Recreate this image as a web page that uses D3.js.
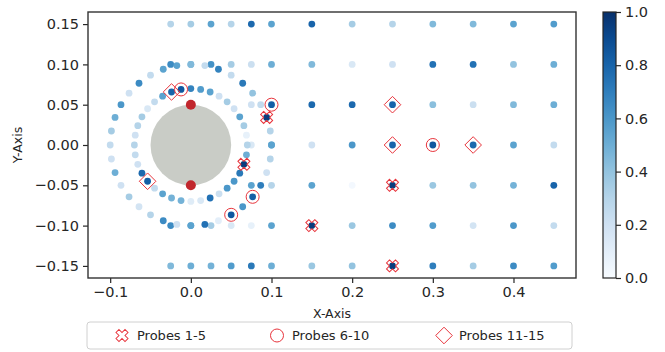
<!DOCTYPE html>
<html>
<head>
<meta charset="utf-8">
<script src="https://cdn.jsdelivr.net/npm/d3@7"></script>
<style>
  body { margin: 0; background: #fff; }
  text { font-family: "DejaVu Sans", sans-serif; fill: #262626; }
</style>
</head>
<body>
<div id="chart"></div>
<script>
// grid columns / rows (data units)
const gridX = [-0.025, 0, 0.025, 0.05, 0.075, 0.1, 0.15, 0.2, 0.25, 0.3, 0.35, 0.4, 0.45];
const gridY = [0.15, 0.1, 0.05, 0, -0.05, -0.1, -0.15];
// value per grid cell, null = no sensor
const gridValues = [
  [0.3, 0.35, 0.55, 0.3, 0.78, 0.55, 0.8, 0.35, 0.3, 0.45, 0.45, 0.55, 0.58],
  [0.65, 0.45, 0.62, 0.35, 0.22, 0.5, 0.45, 0.15, 0.2, 0.75, 0.75, 0.4, 0.5],
  [null, null, null, null, 0.2, 0.82, 0.78, 0.78, 0.8, 0.42, 0.22, 0.45, 0.5],
  [null, null, null, null, 0.15, 0.55, 0.2, 0.6, 0.8, 0.85, 0.78, 0.55, 0.25],
  [null, null, null, null, 0.55, 0.3, 0.55, 0.02, 0.95, 0.38, 0.4, 0.48, 0.8],
  [0.65, 0.55, 0.35, 0.15, 0.08, 0.55, 0.95, 0.38, 0.65, 0.58, 0.18, 0.6, 0.25],
  [0.45, 0.5, 0.48, 0.58, 0.72, 0.5, 0.38, 0.4, 0.95, 0.7, 0.35, 0.65, 0.58]
];

// ring sensors, angle 0..350 deg step 10
const ringAngles = d3.range(0, 360, 10);
const innerRadius = 0.07;
const innerValues = [0.3, 0.08, 0.35, 0.55, 0.2, 0.35, 0.2, 0.55, 0.58, 0.68, 0.85, 0.8,
  0.55, 0.25, 0.15, 0.35, 0.3, 0.2, 0.3, 0.25, 0.2, 0.78, 0.82, 0.25,
  0.55, 0.48, 0.48, 0.12, 0.15, 0.75, 0.22, 0.6, 0.6, 0.72, 0.95, 0.5];
const outerRadius = 0.1;
const outerValues = [0.55, 0.3, 0.95, 0.25, 0.4, 0.72, 0.25, 0.68, 0.25, 0.45, 0.55, 0.55,
  0.25, 0.65, 0.2, 0.6, 0.5, 0.35, 0.25, 0.2, 0.5, 0.2, 0.35, 0.18,
  0.3, 0.65, 0.2, 0.55, 0.75, 0.1, 0.85, 0.6, 0.82, 0.7, 0.2, 0.3];

const cylinderRadius = 0.05;
const stagnation = [[0, 0.05], [0, -0.05]];

const ringPos = (r, a) => [r * Math.cos(a * Math.PI / 180), r * Math.sin(a * Math.PI / 180)];
const probes1to5 = [ringPos(outerRadius, 20), ringPos(innerRadius, 340), [0.15, -0.1], [0.25, -0.05], [0.25, -0.15]];
const probes6to10 = [ringPos(innerRadius, 100), [0.1, 0.05], ringPos(outerRadius, 320), ringPos(outerRadius, 300), [0.3, 0]];
const probes11to15 = [ringPos(innerRadius, 110), ringPos(innerRadius, 220), [0.25, 0.05], [0.25, 0], [0.35, 0]];

const xTicks = [-0.1, 0, 0.1, 0.2, 0.3, 0.4];
const yTicks = [-0.15, -0.1, -0.05, 0, 0.05, 0.1, 0.15];
const cbTicks = [0, 0.2, 0.4, 0.6, 0.8, 1.0];
const legendLabels = ["Probes 1-5", "Probes 6-10", "Probes 11-15"];

const W = 665, H = 352;
const margin = {top: 12, right: 89, bottom: 74, left: 88};

const svg = d3.select("#chart").append("svg")
  .attr("width", W).attr("height", H);

const x = d3.scaleLinear().domain([-0.1275, 0.4775]).range([margin.left, W - margin.right]);
const y = d3.scaleLinear().domain([-0.165, 0.165]).range([H - margin.bottom, margin.top]);
const color = d3.scaleSequential(d3.interpolateBlues).domain([0, 1]);
const red = "#e8343c";

// points
const points = [];
gridValues.forEach((row, i) => row.forEach((v, j) => {
  if (v !== null) points.push({x: gridX[j], y: gridY[i], v});
}));
ringAngles.forEach((a, i) => {
  const [px, py] = ringPos(outerRadius, a);
  points.push({x: px, y: py, v: outerValues[i]});
});
ringAngles.forEach((a, i) => {
  const [px, py] = ringPos(innerRadius, a);
  points.push({x: px, y: py, v: innerValues[i]});
});

// cylinder
svg.append("circle")
  .attr("cx", x(0)).attr("cy", y(0))
  .attr("r", x(cylinderRadius) - x(0))
  .attr("fill", "#c9ccc6");

svg.append("g")
  .selectAll("circle")
  .data(points)
  .join("circle")
    .attr("cx", d => x(d.x))
    .attr("cy", d => y(d.y))
    .attr("r", 3.4)
    .attr("fill", d => color(d.v));

svg.append("g")
  .selectAll("circle")
  .data(stagnation)
  .join("circle")
    .attr("cx", d => x(d[0]))
    .attr("cy", d => y(d[1]))
    .attr("r", 5)
    .attr("fill", "#c1272d");

// probe markers
const xMarker = d3.symbol(d3.symbolCross, 90)();
const diamond = "M0,-8.3L8.3,0L0,8.3L-8.3,0Z";

svg.append("g").selectAll("path")
  .data(probes1to5)
  .join("path")
    .attr("d", xMarker)
    .attr("transform", d => `translate(${x(d[0])},${y(d[1])}) rotate(45)`)
    .attr("fill", "none").attr("stroke", red).attr("stroke-width", 1);

svg.append("g").selectAll("circle")
  .data(probes6to10)
  .join("circle")
    .attr("cx", d => x(d[0])).attr("cy", d => y(d[1]))
    .attr("r", 6.5)
    .attr("fill", "none").attr("stroke", red).attr("stroke-width", 1);

svg.append("g").selectAll("path")
  .data(probes11to15)
  .join("path")
    .attr("d", diamond)
    .attr("transform", d => `translate(${x(d[0])},${y(d[1])})`)
    .attr("fill", "none").attr("stroke", red).attr("stroke-width", 1);

// axes
const fmtY = d3.format(".2f");
const fmtX = d3.format(".1f");
const xAxis = svg.append("g")
  .attr("transform", `translate(0,${H - margin.bottom})`)
  .call(d3.axisBottom(x).tickValues(xTicks).tickFormat(fmtX).tickSizeOuter(0).tickSize(5).tickPadding(4));
const yAxis = svg.append("g")
  .attr("transform", `translate(${margin.left},0)`)
  .call(d3.axisLeft(y).tickValues(yTicks).tickFormat(fmtY).tickSizeOuter(0).tickSize(5).tickPadding(4));
[xAxis, yAxis].forEach(a => {
  a.select(".domain").remove();
  a.selectAll("line").attr("stroke", "#262626").attr("stroke-width", 1.2);
  a.selectAll("text").style("font-size", "14.5px").attr("fill", "#262626");
});

svg.append("rect")
  .attr("x", margin.left).attr("y", margin.top)
  .attr("width", W - margin.right - margin.left)
  .attr("height", H - margin.bottom - margin.top)
  .attr("fill", "none").attr("stroke", "#333").attr("stroke-width", 1.4);

svg.append("text")
  .attr("x", x(0.175)).attr("y", 318)
  .attr("text-anchor", "middle")
  .style("font-size", "12.5px")
  .text("X-Axis");

svg.append("text")
  .attr("transform", `translate(22,${y(0)}) rotate(-90)`)
  .attr("text-anchor", "middle")
  .style("font-size", "12.5px")
  .text("Y-Axis");

// colorbar
const cb = {x: 603, w: 13};
const cbScale = d3.scaleLinear().domain([0, 1]).range([H - margin.bottom, margin.top]);
const grad = svg.append("defs").append("linearGradient")
  .attr("id", "cbgrad").attr("x1", 0).attr("y1", 1).attr("x2", 0).attr("y2", 0);
d3.range(0, 1.01, 0.1).forEach(t => {
  grad.append("stop").attr("offset", t).attr("stop-color", color(t));
});
svg.append("rect")
  .attr("x", cb.x).attr("y", cbScale(1))
  .attr("width", cb.w).attr("height", cbScale(0) - cbScale(1))
  .attr("fill", "url(#cbgrad)")
  .attr("stroke", "#262626").attr("stroke-width", 1.2);
const cbAxis = svg.append("g")
  .attr("transform", `translate(${cb.x + cb.w},0)`)
  .call(d3.axisRight(cbScale).tickValues(cbTicks).tickFormat(fmtX).tickSize(5).tickPadding(4));
cbAxis.select(".domain").remove();
cbAxis.selectAll("line").attr("stroke", "#262626").attr("stroke-width", 1.2);
cbAxis.selectAll("text").style("font-size", "14.5px").attr("fill", "#262626");

// legend
const legend = svg.append("g");
legend.append("rect")
  .attr("x", 87).attr("y", 322).attr("width", 485).attr("height", 27)
  .attr("rx", 3)
  .attr("fill", "#fff").attr("stroke", "#d0d0d0");
const legX = [122, 277, 444];
const legItems = legend.selectAll("g.item")
  .data(legendLabels)
  .join("g")
    .attr("class", "item")
    .attr("transform", (d, i) => `translate(${legX[i]},335.5)`);
legItems.each(function(d, i) {
  const g = d3.select(this);
  if (i === 0) g.append("path").attr("d", xMarker).attr("transform", "rotate(45)");
  if (i === 1) g.append("circle").attr("r", 6.5);
  if (i === 2) g.append("path").attr("d", diamond);
  g.selectAll("path,circle").attr("fill", "none").attr("stroke", red).attr("stroke-width", 1);
  g.append("text").attr("x", 15).attr("dy", "0.35em")
    .style("font-size", "13px").text(d);
});
</script>
</body>
</html>
